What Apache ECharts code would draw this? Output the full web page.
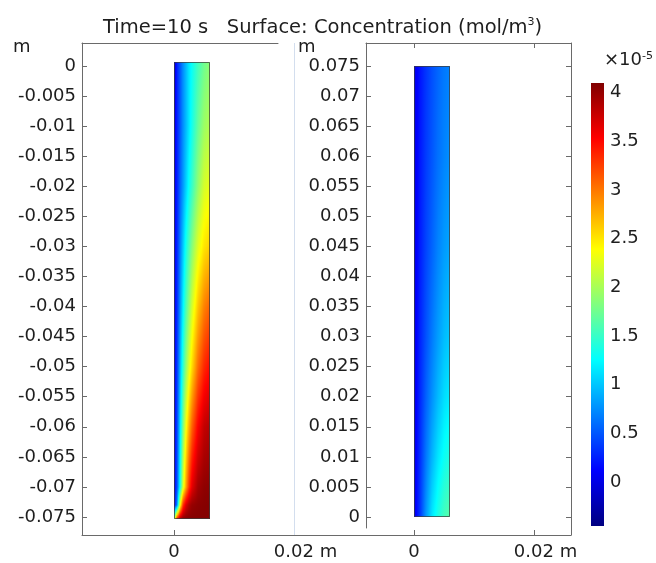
<!DOCTYPE html>
<html>
<head>
<meta charset="utf-8">
<script src="https://cdn.jsdelivr.net/npm/echarts@6/dist/echarts.min.js"></script>
<style>
  html, body { margin: 0; padding: 0; background: #fff; }
  #chart { width: 656px; height: 563px; }
</style>
</head>
<body>
<div id="chart"></div>
<script>
const leftXs = [0, 0.0005, 0.001, 0.0015, 0.002, 0.0025, 0.003, 0.004, 0.005, 0.006];
const leftYs = [0.0006, -0.01, -0.02, -0.03, -0.04, -0.05, -0.06, -0.07, -0.073, -0.0754];
const leftConc = [
  [-0.1, 0.25, 0.5, 0.75, 0.95, 1.15, 1.3, 1.55, 1.75, 1.88],
  [0.0, 0.25, 0.5, 0.75, 0.95, 1.15, 1.35, 1.7, 1.95, 2.05],
  [0.05, 0.25, 0.55, 0.8, 1.05, 1.3, 1.5, 1.9, 2.2, 2.3],
  [0.05, 0.28, 0.65, 1.0, 1.35, 1.6, 1.85, 2.25, 2.5, 2.6],
  [0.05, 0.3, 0.75, 1.2, 1.6, 1.9, 2.2, 2.65, 2.95, 3.1],
  [0.05, 0.35, 0.9, 1.45, 1.9, 2.25, 2.55, 3.05, 3.35, 3.5],
  [0.05, 0.4, 1.1, 1.8, 2.35, 2.75, 3.1, 3.55, 3.8, 3.88],
  [0.05, 0.45, 1.3, 2.2, 2.8, 3.3, 3.65, 3.95, 4.03, 4.05],
  [0.05, 0.7, 2.3, 3.3, 3.7, 3.9, 4.0, 4.05, 4.07, 4.08],
  [1.8, 3.4, 3.9, 4.05, 4.08, 4.08, 4.08, 4.08, 4.08, 4.08]
];

const rightXs = [0, 0.001, 0.002, 0.003, 0.004, 0.005, 0.006];
const rightYs = [0.075, 0.06, 0.045, 0.03, 0.02, 0.01, 0.005, 0];
const rightConc = [
  [0.0, 0.2, 0.35, 0.47, 0.57, 0.65, 0.7],
  [0.0, 0.22, 0.38, 0.5, 0.62, 0.7, 0.76],
  [0.0, 0.24, 0.42, 0.56, 0.7, 0.8, 0.86],
  [0.0, 0.27, 0.48, 0.66, 0.82, 0.95, 1.02],
  [0.0, 0.29, 0.55, 0.76, 0.95, 1.1, 1.18],
  [0.0, 0.32, 0.65, 0.92, 1.14, 1.3, 1.4],
  [0.0, 0.34, 0.72, 1.03, 1.26, 1.43, 1.52],
  [0.0, 0.35, 0.8, 1.15, 1.38, 1.55, 1.65]
];

const colorRange = [-0.45, 4.1];
const jetColors = ['#000080', '#0000ff', '#0080ff', '#00ffff', '#80ff80', '#ffff00', '#ff8000', '#ff0000', '#800000'];

const FONT = 'DejaVu Sans';
const TXT = '#1e1e1e';
const AX = '#6a6a6a';

function cells(xs, ys, z) {
  const out = [];
  for (let j = 0; j < ys.length - 1; j++) {
    for (let i = 0; i < xs.length - 1; i++) {
      out.push([xs[i], ys[j], xs[i + 1], ys[j + 1], z[j][i], z[j][i + 1], z[j + 1][i], z[j + 1][i + 1]]);
    }
  }
  return out;
}

function colorOf(v) {
  let t = (v - colorRange[0]) / (colorRange[1] - colorRange[0]);
  t = Math.min(1, Math.max(0, t));
  return echarts.color.lerp(t, jetColors);
}

// each cell shaded in 1px strips, linear between the sampled corners
function renderCell(params, api) {
  const a = api.coord([api.value(0), api.value(1)]);
  const b = api.coord([api.value(2), api.value(3)]);
  const z = [api.value(4), api.value(5), api.value(6), api.value(7)];
  const x0 = Math.round(a[0]), x1 = Math.round(b[0]);
  const y0 = Math.round(a[1]), y1 = Math.round(b[1]);
  const children = [];
  for (let px = x0; px < x1; px++) {
    const u = Math.min(1, Math.max(0, (px + 0.5 - a[0]) / (b[0] - a[0])));
    const top = z[0] + (z[1] - z[0]) * u;
    const bot = z[2] + (z[3] - z[2]) * u;
    const stops = [];
    for (let k = 0; k <= 6; k++) {
      stops.push({ offset: k / 6, color: colorOf(top + (bot - top) * k / 6) });
    }
    children.push({
      type: 'rect',
      shape: { x: px, y: y0, width: 1, height: y1 - y0 },
      style: { fill: new echarts.graphic.LinearGradient(0, 0, 0, 1, stops) }
    });
  }
  return { type: 'group', children };
}

function renderOutline(params, api) {
  const a = api.coord([api.value(0), api.value(1)]);
  const b = api.coord([api.value(2), api.value(3)]);
  return {
    type: 'rect',
    shape: { x: Math.round(a[0]) + 0.5, y: Math.round(a[1]) + 0.5, width: Math.round(b[0]) - Math.round(a[0]) - 1, height: Math.round(b[1]) - Math.round(a[1]) - 1 },
    style: { fill: null, stroke: 'rgba(60,60,60,0.75)', lineWidth: 1 }
  };
}

function renderBar(params, api) {
  const a = api.coord([0, api.value(0)]);
  const b = api.coord([1, api.value(1)]);
  const n = jetColors.length;
  const stops = jetColors.map((c, i) => ({ offset: (n - 1 - i) / (n - 1), color: c })).reverse();
  return {
    type: 'rect',
    shape: { x: a[0], y: b[1], width: b[0] - a[0], height: a[1] - b[1] },
    style: { fill: new echarts.graphic.LinearGradient(0, 0, 0, 1, stops) }
  };
}

function xLabel(v) {
  if (Math.abs(v) < 1e-9) return '0';
  if (Math.abs(v - 0.02) < 1e-9) return '{s| }0.02{u| m}';
  return '';
}

const labelStyle = { fontFamily: FONT, fontSize: 18, color: TXT };
const xRich = { s: { width: 23, fontSize: 18 }, u: { fontSize: 18, fontFamily: FONT, color: TXT } };
const noSplit = { show: false };
const frameLine = { onZero: false, lineStyle: { color: AX, width: 1 } };

const chart = echarts.init(document.getElementById('chart'));

chart.setOption({
  animation: false,
  backgroundColor: '#fff',
  title: {
    text: '{t|Time=10 s   Surface: Concentration (mol/m}{sup|3}{t|)}',
    left: 103,
    top: 17,
    padding: 0,
    textStyle: {
      fontWeight: 'normal',
      rich: {
        t: { fontFamily: FONT, fontSize: 19.5, fontWeight: 'normal', color: TXT, lineHeight: 22 },
        sup: { fontFamily: FONT, fontSize: 11, fontWeight: 'normal', color: TXT, verticalAlign: 'top', lineHeight: 12 }
      }
    }
  },
  graphic: [
    { type: 'text', left: 13, top: 38, style: { text: 'm', fontFamily: FONT, fontSize: 18, fill: TXT } },
    { type: 'text', left: 298, top: 38, style: { text: 'm', fontFamily: FONT, fontSize: 18, fill: TXT } },
    {
      type: 'text', left: 604, top: 51,
      style: {
        text: '×10{sup|-5}', fontFamily: FONT, fontSize: 18, fill: TXT,
        rich: { sup: { fontFamily: FONT, fontSize: 11, fill: TXT, verticalAlign: 'top', lineHeight: 12 } }
      }
    }
  ],
  grid: [
    { left: 82, top: 43, width: 489, height: 492 },
    { left: 366, top: 43, width: 205, height: 485 },
    { left: 82, top: 43, width: 196, height: 492 },
    { left: 591, top: 83, width: 13, height: 443 }
  ],
  xAxis: [
    {
      gridIndex: 0, type: 'value', position: 'bottom',
      min: -0.0153333, max: 0.0661667, splitNumber: 4,
      axisLine: frameLine,
      axisTick: { inside: true, length: 5, lineStyle: { color: AX } },
      axisLabel: Object.assign({ margin: 8, formatter: xLabel, rich: xRich, showMinLabel: false, showMaxLabel: false }, labelStyle),
      splitLine: noSplit
    },
    {
      gridIndex: 1, type: 'value', position: 'bottom', offset: 7,
      min: -0.008, max: 0.0261667, splitNumber: 2,
      axisLine: { show: false, onZero: false },
      axisTick: { show: false },
      axisLabel: Object.assign({ margin: 8, formatter: xLabel, rich: xRich, showMinLabel: false, showMaxLabel: false }, labelStyle),
      splitLine: noSplit
    },
    {
      gridIndex: 1, type: 'value', position: 'top',
      min: -0.008, max: 0.0261667, splitNumber: 2,
      axisLine: frameLine,
      axisTick: { inside: true, length: 5, lineStyle: { color: AX } },
      axisLabel: { show: false },
      splitLine: noSplit
    },
    {
      gridIndex: 2, type: 'value', position: 'top', min: 0, max: 1,
      axisLine: frameLine,
      axisTick: { show: false },
      axisLabel: { show: false },
      splitLine: noSplit
    },
    { gridIndex: 3, type: 'value', min: 0, max: 1, show: false }
  ],
  yAxis: [
    {
      gridIndex: 0, type: 'value', position: 'left',
      min: -0.077993, max: 0.003825, splitNumber: 16,
      axisLine: frameLine,
      axisTick: { inside: true, length: 5, lineStyle: { color: AX } },
      axisLabel: Object.assign({ margin: 6, showMinLabel: false, showMaxLabel: false }, labelStyle),
      splitLine: noSplit
    },
    {
      gridIndex: 0, type: 'value', position: 'right',
      min: -0.077993, max: 0.003825, splitNumber: 16,
      axisLine: frameLine,
      axisTick: { inside: true, length: 5, lineStyle: { color: AX } },
      axisLabel: { show: false },
      splitLine: noSplit
    },
    {
      gridIndex: 1, type: 'value', position: 'left',
      min: -0.001829, max: 0.078825, splitNumber: 16,
      axisLine: frameLine,
      axisTick: { inside: true, length: 5, lineStyle: { color: AX } },
      axisLabel: Object.assign({ margin: 6, showMinLabel: false, showMaxLabel: false }, labelStyle),
      splitLine: noSplit
    },
    { gridIndex: 2, type: 'value', show: false },
    {
      gridIndex: 3, type: 'value', position: 'right',
      min: colorRange[0], max: colorRange[1], splitNumber: 9,
      axisLine: { show: false, onZero: false },
      axisTick: { inside: true, length: 3, lineStyle: { color: '#333' } },
      axisLabel: Object.assign({ margin: 6, showMinLabel: false, showMaxLabel: false }, labelStyle),
      splitLine: noSplit
    }
  ],
  series: [
    {
      type: 'custom', xAxisIndex: 0, yAxisIndex: 0, silent: true,
      renderItem: renderCell, encode: { x: [0, 2], y: [1, 3] },
      data: cells(leftXs, leftYs, leftConc)
    },
    {
      type: 'custom', xAxisIndex: 0, yAxisIndex: 0, silent: true,
      renderItem: renderOutline, encode: { x: [0, 2], y: [1, 3] },
      data: [[leftXs[0], leftYs[0], leftXs[leftXs.length - 1], leftYs[leftYs.length - 1]]]
    },
    {
      type: 'custom', xAxisIndex: 1, yAxisIndex: 2, silent: true,
      renderItem: renderCell, encode: { x: [0, 2], y: [1, 3] },
      data: cells(rightXs, rightYs, rightConc)
    },
    {
      type: 'custom', xAxisIndex: 1, yAxisIndex: 2, silent: true,
      renderItem: renderOutline, encode: { x: [0, 2], y: [1, 3] },
      data: [[rightXs[0], rightYs[0], rightXs[rightXs.length - 1], rightYs[rightYs.length - 1]]]
    },
    {
      type: 'custom', xAxisIndex: 4, yAxisIndex: 4, silent: true,
      renderItem: renderBar, encode: { y: [0, 1] },
      data: [colorRange]
    },
    {
      type: 'scatter', xAxisIndex: 0, yAxisIndex: 0, data: [], silent: true,
      markLine: {
        silent: true, symbol: ['none', 'none'], label: { show: false },
        lineStyle: { color: '#d3deee', type: 'solid', width: 1 },
        data: [{ xAxis: 0.02 }]
      }
    }
  ]
});
</script>
</body>
</html>
